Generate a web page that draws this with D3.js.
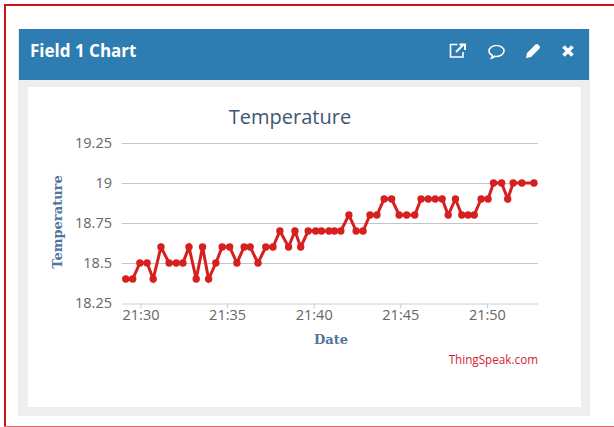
<!DOCTYPE html>
<html>
<head>
<meta charset="utf-8">
<script src="https://cdnjs.cloudflare.com/ajax/libs/d3/7.8.5/d3.min.js"></script>
<style>
html, body { margin: 0; padding: 0; background: #fff; overflow: hidden; }
svg { display: block; }
text { font-family: "Open Sans", sans-serif; }
</style>
</head>
<body>
<div id="chart"></div>
<script>
// readings
var times = ["21:29:09","21:29:33","21:29:58","21:30:23","21:30:44","21:31:11","21:31:39","21:32:04","21:32:27","21:32:48",
    "21:33:13","21:33:35","21:33:56","21:34:21","21:34:43","21:35:09","21:35:34","21:35:59","21:36:20","21:36:47",
    "21:37:14","21:37:39","21:38:03","21:38:33","21:38:55","21:39:15","21:39:41","21:40:07","21:40:27","21:40:53",
    "21:41:12","21:41:34","21:42:02","21:42:27","21:42:51","21:43:15","21:43:39","21:44:04","21:44:30","21:44:56",
    "21:45:22","21:45:50","21:46:12","21:46:37","21:47:01","21:47:25","21:47:46","21:48:11","21:48:33","21:48:55",
    "21:49:16","21:49:40","21:50:04","21:50:23","21:50:51","21:51:12","21:51:31","21:52:01","21:52:43"];
var temperature = [18.4,18.4,18.5,18.5,18.4,18.6,18.5,18.5,18.5,18.6,
    18.4,18.6,18.4,18.5,18.6,18.6,18.5,18.6,18.6,18.5,
    18.6,18.6,18.7,18.6,18.7,18.6,18.7,18.7,18.7,18.7,
    18.7,18.7,18.8,18.7,18.7,18.8,18.8,18.9,18.9,18.8,
    18.8,18.8,18.9,18.9,18.9,18.9,18.8,18.9,18.8,18.8,
    18.8,18.9,18.9,19,19,18.9,19,19,19];
var xTicks = ["21:30:00","21:35:00","21:40:00","21:45:00","21:50:00"];
var xDomain = ["21:28:56","21:52:57"];
var yTicks = [18.25,18.5,18.75,19,19.25];

var width = 614;
var height = 427;
var parseTime = d3.timeParse("%H:%M:%S");

var svg = d3.select("#chart").append("svg")
    .attr("width", width)
    .attr("height", height);

//red outline of the screenshot
svg.append("rect").attr("x", 4).attr("y", 4).attr("width", 2).attr("height", 423).attr("fill", "#c8141c");
svg.append("rect").attr("x", 4).attr("y", 4).attr("width", 610).attr("height", 2).attr("fill", "#c8141c");
svg.append("rect").attr("x", 4).attr("y", 426).attr("width", 610).attr("height", 1).attr("fill", "#e26a6e");

//panel
svg.append("rect").attr("x", 18).attr("y", 29).attr("width", 572).attr("height", 387).attr("fill", "#eeeeee");
svg.append("rect").attr("x", 19).attr("y", 29).attr("width", 570).attr("height", 51).attr("fill", "#2e7db2");
svg.append("rect").attr("x", 28).attr("y", 87).attr("width", 553).attr("height", 320).attr("fill", "#ffffff");

svg.append("text")
    .attr("x", 30).attr("y", 57)
    .attr("font-size", 17).attr("font-weight", 700)
    .attr("fill", "#ffffff")
    .text("Field 1 Chart");

//header icons
var icons = svg.append("g").attr("fill", "none").attr("stroke", "#ffffff");
icons.append("path")
    .attr("stroke-width", 1.6)
    .attr("d", "M463 52v5h-12.500v-12.500h7");
icons.append("path")
    .attr("stroke-width", 2)
    .attr("d", "M456 52l8-8M459.500 44.500h5.500v5.500");
icons.append("path")
    .attr("stroke-width", 1.5)
    .attr("d", "M489 51c0-3 3.300-5.500 7.500-5.500s7.500 2.500 7.500 5.500-3.300 5.500-7.500 5.500c-.7 0-1.300 0-2-.2-.7 1-1.700 1.700-3 1.900.6-.8 1-1.700 1-2.700-2.300-1-3.500-2.500-3.500-4.500z");
icons.append("path")
    .attr("fill", "#ffffff").attr("stroke", "none")
    .attr("d", "M526 58l1-5 8.500-8.500c.8-.8 1.800-.8 2.500 0l1.500 1.500c.7.7.7 1.700 0 2.500l-8.500 8.500z");
icons.append("path")
    .attr("stroke-width", 3.600)
    .attr("d", "M563.500 46.500l9 9M572.500 46.500l-9 9");

//chart
var x = d3.scaleTime()
    .domain(xDomain.map(parseTime))
    .range([122, 538]);
var y = d3.scaleLinear()
    .domain([18.25, 19.25])
    .range([303, 143]);

var data = times.map(function(t, i) {
    return { time: parseTime(t), value: temperature[i] };
});

//gridlines
svg.append("g").selectAll("line")
    .data(yTicks.slice(1))
    .enter()
    .append("line")
    .attr("x1", 122).attr("x2", 538)
    .attr("y1", function(d) { return y(d) + 0.5; })
    .attr("y2", function(d) { return y(d) + 0.5; })
    .attr("stroke", "#c4c4c4")
    .attr("stroke-width", 1.2);

//x axis
var xAxis = svg.append("g")
    .attr("transform", "translate(0,303.5)")
    .call(d3.axisBottom(x)
        .tickValues(xTicks.map(parseTime))
        .tickFormat(d3.timeFormat("%H:%M"))
        .tickSize(5)
        .tickSizeOuter(0));
xAxis.select(".domain").attr("stroke", "#c0d0e0");
xAxis.selectAll(".tick line").attr("stroke", "#c0d0e0");
xAxis.selectAll("text")
    .attr("font-size", 14.5).attr("fill", "#666666")
    .attr("font-family", "Open Sans")
    .attr("y", 6);

//y axis labels
svg.append("g").selectAll("text")
    .data(yTicks)
    .enter()
    .append("text")
    .attr("x", 112)
    .attr("y", function(d) { return y(d) + 5; })
    .attr("text-anchor", "end")
    .attr("font-size", 14.5)
    .attr("fill", "#666666")
    .text(function(d) { return d; });

//line and points
var line = d3.line()
    .x(function(d) { return x(d.time); })
    .y(function(d) { return y(d.value); });

svg.append("path")
    .datum(data)
    .attr("fill", "none")
    .attr("stroke", "#d62020")
    .attr("stroke-width", 3)
    .attr("d", line);

svg.append("g").selectAll("circle")
    .data(data)
    .enter()
    .append("circle")
    .attr("cx", function(d) { return x(d.time); })
    .attr("cy", function(d) { return y(d.value); })
    .attr("r", 3.7)
    .attr("fill", "#d62020");

//titles
svg.append("text")
    .attr("x", 290).attr("y", 124)
    .attr("text-anchor", "middle")
    .attr("font-size", 20)
    .attr("fill", "#3e576f")
    .text("Temperature");

svg.append("text")
    .attr("x", 331).attr("y", 344)
    .attr("text-anchor", "middle")
    .attr("font-size", 13).attr("font-weight", 700)
    .attr("fill", "#4d759e")
    .style("font-family", "'DejaVu Serif'")
    .text("Date");

svg.append("text")
    .attr("transform", "translate(62,222) rotate(-90)")
    .attr("text-anchor", "middle")
    .attr("font-size", 13).attr("font-weight", 700)
    .attr("fill", "#4d759e")
    .style("font-family", "'DejaVu Serif'")
    .text("Temperature");

svg.append("text")
    .attr("x", 538).attr("y", 364)
    .attr("text-anchor", "end")
    .attr("font-size", 11.7)
    .attr("fill", "#d62030")
    .text("ThingSpeak.com");
</script>
</body>
</html>
